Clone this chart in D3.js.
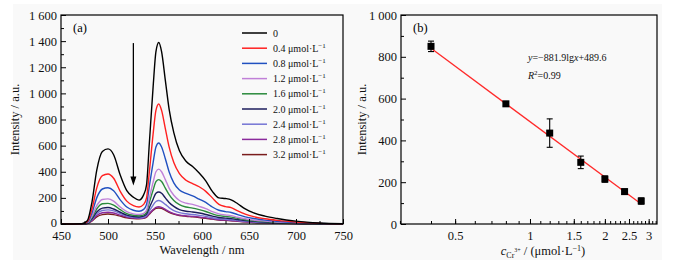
<!DOCTYPE html>
<html>
<head>
<meta charset="utf-8">
<script src="https://cdn.jsdelivr.net/npm/d3@7"></script>
<style>
  body { margin: 0; background: #fff; }
  svg { display: block; font-family: "Liberation Serif", "Times New Roman", serif; }
</style>
</head>
<body>
<div id="chart"></div>
<script>
// ---- panel (a): emission spectra ----
const wavelengths = [450, 472, 478, 483, 488, 494, 500, 506, 513, 520, 527, 533, 538, 541, 544, 548, 551, 554, 557, 561,
  565, 570, 576, 583, 590, 597, 604, 611, 618, 625, 631, 638, 646, 655, 667, 680, 700, 725, 750];

const spec0  = [0, 2, 25, 170, 410, 555, 575, 530, 375, 255, 205, 183, 225, 300, 620, 1050, 1320, 1390, 1320, 1100,
  880, 700, 560, 480, 440, 390, 330, 250, 200, 195, 185, 155, 115, 85, 60, 42, 22, 8, 2];
const spec04 = [0, 1, 17, 115, 275, 370, 383, 350, 250, 175, 140, 130, 150, 200, 400, 690, 870, 919, 870, 730,
  590, 470, 385, 335, 310, 285, 250, 200, 150, 133, 125, 100, 75, 56, 40, 28, 15, 5, 1];
const spec08 = [0, 1, 12, 85, 200, 268, 278, 255, 185, 130, 105, 98, 112, 150, 290, 470, 590, 620, 590, 500,
  400, 315, 260, 235, 215, 190, 165, 130, 105, 95, 88, 72, 55, 42, 30, 21, 11, 4, 1];
const spec12 = [0, 1, 8, 60, 140, 188, 192, 175, 130, 95, 78, 73, 82, 105, 200, 320, 400, 420, 400, 340,
  275, 220, 180, 160, 150, 135, 118, 95, 78, 70, 64, 52, 40, 30, 22, 15, 8, 3, 0];
const spec16 = [0, 1, 7, 50, 115, 155, 158, 145, 110, 80, 67, 63, 70, 90, 165, 260, 325, 340, 325, 275,
  225, 180, 148, 130, 122, 110, 96, 78, 64, 58, 53, 43, 33, 25, 18, 12, 6, 2, 0];
const spec20 = [0, 1, 5, 40, 92, 122, 126, 115, 90, 68, 57, 54, 60, 75, 125, 190, 235, 245, 235, 200,
  165, 135, 110, 98, 92, 84, 73, 60, 50, 45, 41, 34, 26, 20, 14, 10, 5, 2, 0];
const spec24 = [0, 1, 5, 34, 78, 103, 108, 100, 80, 60, 51, 48, 52, 64, 100, 145, 172, 180, 172, 150,
  125, 103, 87, 78, 73, 66, 58, 48, 40, 36, 33, 27, 21, 16, 12, 8, 4, 1, 0];
const spec28 = [0, 1, 4, 28, 65, 86, 90, 84, 68, 53, 45, 43, 46, 55, 80, 110, 127, 132, 127, 112,
  95, 80, 68, 62, 58, 53, 47, 39, 33, 30, 27, 22, 17, 13, 10, 7, 3, 1, 0];
const spec32 = [0, 1, 3, 23, 55, 72, 76, 72, 60, 48, 42, 40, 43, 52, 76, 105, 120, 123, 119, 105,
  90, 76, 65, 59, 55, 50, 44, 37, 31, 28, 25, 21, 16, 12, 9, 6, 3, 1, 0];

const seriesLabels = ['0', '0.4', '0.8', '1.2', '1.6', '2.0', '2.4', '2.8', '3.2'];
const seriesValues = [spec0, spec04, spec08, spec12, spec16, spec20, spec24, spec28, spec32];
const seriesColors = ['#000000', '#ff2020', '#2050c0', '#c080d8', '#2a8a3c', '#1c1c5c', '#7474d4', '#8a2a9c', '#7a1c1c'];

const wlTicks = [450, 500, 550, 600, 650, 700, 750];
const intTicks = [0, 200, 400, 600, 800, 1000, 1200, 1400, 1600];
const arrowFrom = [527, 1385], arrowTo = [527, 295];

// ---- panel (b): calibration ----
const concs = [0.4, 0.8, 1.2, 1.6, 2.0, 2.4, 2.8];
const intens = [850, 575, 435, 295, 215, 155, 110];
const errs = [25, 10, 68, 30, 15, 12, 15];
const fitSlope = -881.9, fitIntercept = 489.6;
const fitRange = [0.4, 2.8];
const concTicks = [0.5, 1, 1.5, 2, 2.5, 3];
const intTicksB = [0, 200, 400, 600, 800, 1000];

const W = 675, H = 263;
const svg = d3.select('#chart').append('svg').attr('width', W).attr('height', H);
svg.append('rect').attr('x', 13).attr('y', 4).attr('width', 649).attr('height', 256).attr('fill', '#f9f9f9');

// "1 600" style thousands
const fmtK2 = d => d >= 1000 ? String(d).slice(0, 1) + ' ' + String(d).slice(1) : String(d);

function frame(x0, x1, y0, y1) {
  svg.append('rect').attr('x', x0).attr('y', y0).attr('width', x1 - x0).attr('height', y1 - y0)
    .attr('fill', 'none').attr('stroke', '#000').attr('stroke-width', 1.2);
}

// ========== panel (a) ==========
const A = { l: 61, r: 343, t: 15, b: 224 };
const xA = d3.scaleLinear().domain([450, 750]).range([A.l, A.r]);
const yA = d3.scaleLinear().domain([0, 1600]).range([A.b, A.t]);

const gA = svg.append('g');
const line = d3.line().curve(d3.curveMonotoneX);

seriesValues.slice().reverse().forEach((vals, i) => {
  const k = seriesValues.length - 1 - i;
  gA.append('path')
    .attr('d', line(wavelengths.map((w, j) => [xA(w), yA(vals[j])])))
    .attr('fill', 'none').attr('stroke', seriesColors[k]).attr('stroke-width', 1.4);
});

// bottom axis (ticks inward)
gA.append('g').attr('transform', `translate(0,${A.b})`)
  .call(d3.axisBottom(xA).tickValues(d3.range(450, 751, 25)).tickSize(0).tickFormat(''))
  .call(ax => ax.select('.domain').remove())
  .call(ax => ax.selectAll('.tick line').attr('y2', d => wlTicks.includes(d) ? -5 : -3).attr('stroke', '#000'));
gA.append('g').attr('transform', `translate(0,${A.b})`)
  .call(d3.axisBottom(xA).tickValues(wlTicks).tickSize(0).tickPadding(7))
  .call(ax => ax.select('.domain').remove())
  .call(ax => ax.selectAll('text').attr('font-size', '12.5px').attr('fill', '#111').attr('font-family', 'Liberation Serif'));

gA.append('g').attr('transform', `translate(${A.l},0)`)
  .call(d3.axisLeft(yA).tickValues(d3.range(0, 1601, 100)).tickSize(0).tickFormat(''))
  .call(ax => ax.select('.domain').remove())
  .call(ax => ax.selectAll('.tick line').attr('x2', d => intTicks.includes(d) ? 5 : 3).attr('stroke', '#000'));
gA.append('g').attr('transform', `translate(${A.l},0)`)
  .call(d3.axisLeft(yA).tickValues(intTicks).tickSize(0).tickPadding(4).tickFormat(fmtK2))
  .call(ax => ax.select('.domain').remove())
  .call(ax => ax.selectAll('text').attr('font-size', '12.5px').attr('fill', '#111').attr('font-family', 'Liberation Serif'))
  .call(ax => ax.selectAll('.tick').filter(d => d === 0).select('text').attr('dy', '0.2em'));

frame(A.l, A.r, A.t, A.b);

// arrow
gA.append('line')
  .attr('x1', xA(arrowFrom[0])).attr('y1', yA(arrowFrom[1]))
  .attr('x2', xA(arrowTo[0])).attr('y2', yA(arrowTo[1]) - 6)
  .attr('stroke', '#000').attr('stroke-width', 1.3);
gA.append('path')
  .attr('d', `M${xA(arrowTo[0]) - 3},${yA(arrowTo[1]) - 9} L${xA(arrowTo[0])},${yA(arrowTo[1])} L${xA(arrowTo[0]) + 3},${yA(arrowTo[1]) - 9} Z`)
  .attr('fill', '#000');

svg.append('text').attr('x', 73).attr('y', 32).attr('font-size', '12.5px').text('(a)');

// legend
const leg = svg.append('g');
seriesLabels.forEach((lab, i) => {
  const y = 33 + i * 15.2;
  leg.append('line').attr('x1', 242).attr('x2', 267).attr('y1', y).attr('y2', y)
    .attr('stroke', seriesColors[i]).attr('stroke-width', 1.5);
  const t = leg.append('text').attr('x', 273).attr('y', y + 3.5).attr('font-size', '10px').attr('fill', '#111');
  if (lab === '0') { t.text('0'); return; }
  t.append('tspan').text(lab + ' \u03bcmol\u00b7L');
  t.append('tspan').attr('dy', -4).attr('font-size', '7px').text('\u22121');
});

// axis titles
svg.append('text').attr('x', (A.l + A.r) / 2).attr('y', 254).attr('text-anchor', 'middle')
  .attr('font-size', '12.5px').attr('fill', '#111').text('Wavelength / nm');
svg.append('text').attr('transform', `translate(19,${(A.t + A.b) / 2}) rotate(-90)`).attr('text-anchor', 'middle')
  .attr('font-size', '12.5px').attr('fill', '#111').text('Intensity / a.u.');

// ========== panel (b) ==========
const B = { l: 401, r: 657, t: 15, b: 224 };
const xB = d3.scaleLog().domain([0.303, 3.24]).range([B.l, B.r]);
const yB = d3.scaleLinear().domain([0, 1000]).range([B.b, B.t]);
const gB = svg.append('g');

const minorB = d3.range(3, 33).map(d => d / 10);
gB.append('g').attr('transform', `translate(0,${B.b})`)
  .call(d3.axisBottom(xB).tickValues(minorB).tickSize(0).tickFormat(''))
  .call(ax => ax.select('.domain').remove())
  .call(ax => ax.selectAll('.tick line').attr('y2', -3).attr('stroke', '#000'));
gB.append('g').attr('transform', `translate(0,${B.b})`)
  .call(d3.axisBottom(xB).tickValues(concTicks).tickSize(0).tickPadding(7).tickFormat(d => String(d)))
  .call(ax => ax.select('.domain').remove())
  .call(ax => ax.selectAll('.tick line').attr('y2', -5).attr('stroke', '#000'))
  .call(ax => ax.selectAll('text').attr('font-size', '12.5px').attr('fill', '#111').attr('font-family', 'Liberation Serif'));

gB.append('g').attr('transform', `translate(${B.l},0)`)
  .call(d3.axisLeft(yB).tickValues(d3.range(0, 1001, 100)).tickSize(0).tickFormat(''))
  .call(ax => ax.select('.domain').remove())
  .call(ax => ax.selectAll('.tick line').attr('x2', d => intTicksB.includes(d) ? 5 : 3).attr('stroke', '#000'));
gB.append('g').attr('transform', `translate(${B.l},0)`)
  .call(d3.axisLeft(yB).tickValues(intTicksB).tickSize(0).tickPadding(4).tickFormat(fmtK2))
  .call(ax => ax.select('.domain').remove())
  .call(ax => ax.selectAll('text').attr('font-size', '12.5px').attr('fill', '#111').attr('font-family', 'Liberation Serif'));

frame(B.l, B.r, B.t, B.b);

// fit line
gB.append('line')
  .attr('x1', xB(fitRange[0])).attr('y1', yB(fitSlope * Math.log10(fitRange[0]) + fitIntercept))
  .attr('x2', xB(fitRange[1])).attr('y2', yB(fitSlope * Math.log10(fitRange[1]) + fitIntercept))
  .attr('stroke', '#ff2a2a').attr('stroke-width', 1.3);

// error bars + points
const pts = concs.map((c, i) => ({ c, v: intens[i], e: errs[i] }));
const eb = gB.selectAll('g.eb').data(pts).join('g').attr('class', 'eb');
eb.append('line').attr('x1', d => xB(d.c)).attr('x2', d => xB(d.c))
  .attr('y1', d => yB(d.v - d.e)).attr('y2', d => yB(d.v + d.e)).attr('stroke', '#000').attr('stroke-width', 1.1);
eb.append('line').attr('x1', d => xB(d.c) - 3).attr('x2', d => xB(d.c) + 3)
  .attr('y1', d => yB(d.v + d.e)).attr('y2', d => yB(d.v + d.e)).attr('stroke', '#000').attr('stroke-width', 1.1);
eb.append('line').attr('x1', d => xB(d.c) - 3).attr('x2', d => xB(d.c) + 3)
  .attr('y1', d => yB(d.v - d.e)).attr('y2', d => yB(d.v - d.e)).attr('stroke', '#000').attr('stroke-width', 1.1);
eb.append('rect').attr('x', d => xB(d.c) - 3.5).attr('y', d => yB(d.v) - 3.5)
  .attr('width', 7).attr('height', 7).attr('fill', '#000');

svg.append('text').attr('x', 413).attr('y', 32).attr('font-size', '12.5px').text('(b)');

const eq = svg.append('text').attr('x', 528).attr('y', 61).attr('font-size', '10px').attr('fill', '#111');
eq.append('tspan').attr('font-style', 'italic').text('y');
eq.append('tspan').text('=\u2212881.9lg');
eq.append('tspan').attr('font-style', 'italic').text('x');
eq.append('tspan').text('+489.6');
const r2 = svg.append('text').attr('x', 528).attr('y', 79).attr('font-size', '10px').attr('fill', '#111');
r2.append('tspan').attr('font-style', 'italic').text('R');
r2.append('tspan').attr('dy', -4).attr('font-size', '7px').text('2');
r2.append('tspan').attr('dy', 4).text('=0.99');

const xt = svg.append('text').attr('x', (B.l + B.r) / 2 + 14).attr('y', 255).attr('text-anchor', 'middle')
  .attr('font-size', '12.5px').attr('fill', '#111');
xt.append('tspan').attr('font-style', 'italic').text('c');
xt.append('tspan').attr('dy', 3).attr('font-size', '8px').text('Cr');
xt.append('tspan').attr('dy', -6).attr('font-size', '6px').text('3+');
xt.append('tspan').attr('dy', 3).text(' / (\u03bcmol\u00b7L');
xt.append('tspan').attr('dy', -4).attr('font-size', '8px').text('\u22121');
xt.append('tspan').attr('dy', 4).text(')');

svg.append('text').attr('transform', `translate(366,${(B.t + B.b) / 2}) rotate(-90)`).attr('text-anchor', 'middle')
  .attr('font-size', '12.5px').attr('fill', '#111').text('Intensity / a.u.');
</script>
</body>
</html>
